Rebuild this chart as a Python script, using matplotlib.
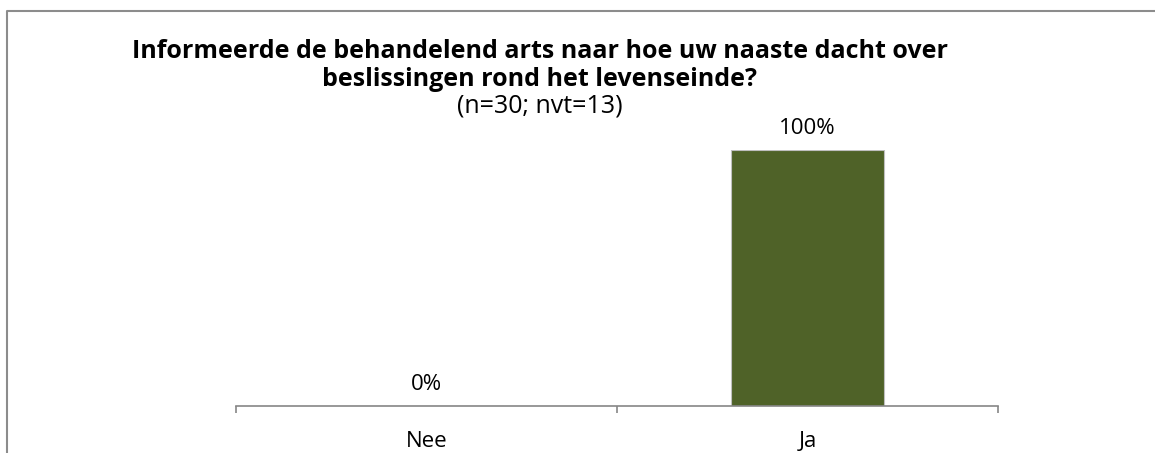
import matplotlib
matplotlib.use("Agg")
from matplotlib import pyplot as plt
from matplotlib.lines import Line2D

categories = ["Nee", "Ja"]
values = [0, 100]
value_labels = ["0%", "100%"]
title_lines = ["Informeerde de behandelend arts naar hoe uw naaste dacht over",
               "beslissingen rond het levenseinde?"]
subtitle = "(n=30; nvt=13)"

plt.rcParams['font.family'] = ['Open Sans', 'DejaVu Sans']

W, H = 1155, 453
fig = plt.figure(figsize=(W / 100, H / 100), dpi=100)
ax = fig.add_axes([236 / W, 1 - 406 / H, 762 / W, 256 / H])

x = range(len(categories))
ax.bar(x, values, width=0.4, color="#4F6228", edgecolor="#BFBFBF", linewidth=0.8)
for xi, v, lab in zip(x, values, value_labels):
    ax.annotate(lab, (xi, v), xytext=(0, 15.5), textcoords="offset points",
                ha="center", va="center", fontsize=16)

ax.set_xlim(-0.5, 1.5)
ax.set_ylim(0, 100)
ax.set_yticks([])
for s in ["left", "right", "top"]:
    ax.spines[s].set_visible(False)
ax.spines["bottom"].set_color("#868686")
ax.spines["bottom"].set_linewidth(1.2)
ax.set_xticks([-0.5, 0.5, 1.5])
ax.set_xticklabels([])
ax.set_xticks(list(x), minor=True)
ax.set_xticklabels(categories, minor=True, fontsize=16)
ax.tick_params(axis="x", which="major", direction="out", length=5, color="#868686", width=1.2)
ax.tick_params(axis="x", which="minor", length=0, pad=18)

for i, line in enumerate(title_lines):
    fig.text(540 / W, 1 - (51 + 29 * i) / H, line, ha="center", va="center",
             fontsize=18, fontweight="bold")
fig.text(540 / W, 1 - 106 / H, subtitle, ha="center", va="center", fontsize=18)

# outer chart border
fig.add_artist(Line2D([7 / W, 7 / W, 1], [0, 1 - 10.5 / H, 1 - 10.5 / H],
                      color="#8C8C8C", linewidth=1.5))

plt.savefig("out.png", dpi=100)
